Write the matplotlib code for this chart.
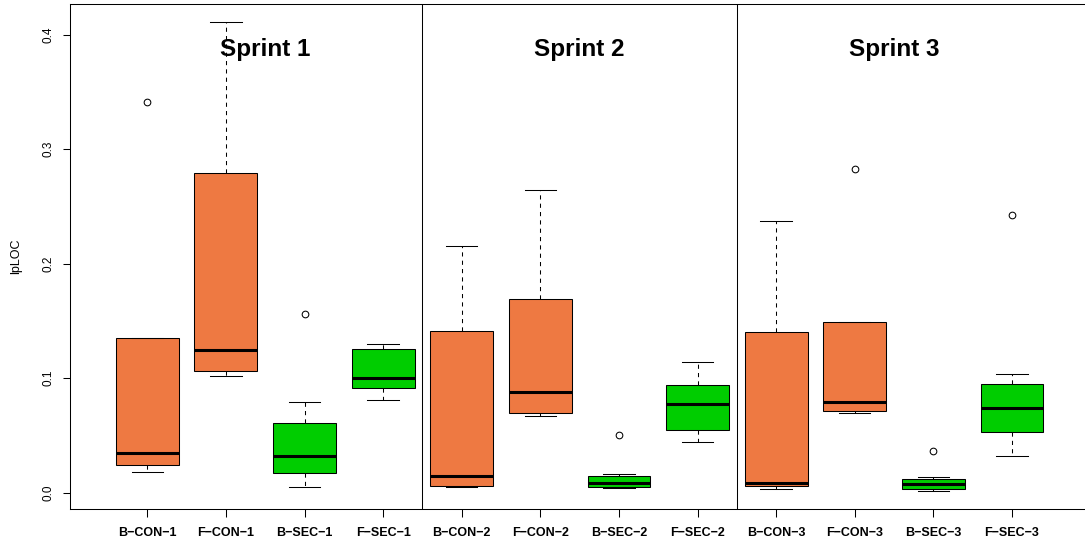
import matplotlib
matplotlib.use("Agg")
import matplotlib.pyplot as plt

plt.rcParams['font.family'] = ['Liberation Sans', 'DejaVu Sans']

labels = ['B−CON−1', 'F−CON−1', 'B−SEC−1', 'F−SEC−1',
          'B−CON−2', 'F−CON−2', 'B−SEC−2', 'F−SEC−2',
          'B−CON−3', 'F−CON−3', 'B−SEC−3', 'F−SEC−3']
whislo = [0.0177, 0.1017, 0.0046, 0.0807,
          0.0049, 0.0673, 0.0043, 0.0442,
          0.0031, 0.0691, 0.0016, 0.0317]
q1 = [0.0241, 0.1066, 0.0174, 0.0913,
      0.0061, 0.0691, 0.0049, 0.0548,
      0.0058, 0.0712, 0.0034, 0.0527]
med = [0.0350, 0.1248, 0.0320, 0.0999,
       0.0146, 0.0880, 0.0082, 0.0776,
       0.0082, 0.0792, 0.0077, 0.0737]
q3 = [0.1349, 0.2795, 0.0609, 0.1258,
      0.1413, 0.1690, 0.0141, 0.0941,
      0.1401, 0.1486, 0.0122, 0.0947]
whishi = [0.1349, 0.4113, 0.0792, 0.1297,
          0.2153, 0.2643, 0.0159, 0.1142,
          0.2372, 0.1486, 0.0134, 0.1038]
fliers = [[0.3416], [], [0.1556], [],
          [], [], [0.0502], [],
          [], [0.2831], [0.0365], [0.2424]]
groups = ['CON', 'CON', 'SEC', 'SEC'] * 3
sprint_titles = ['Sprint 1', 'Sprint 2', 'Sprint 3']
yticks = [0.0, 0.1, 0.2, 0.3, 0.4]
ytick_labels = ['0.0', '0.1', '0.2', '0.3', '0.4']

group_colors = {'CON': '#EE7942', 'SEC': '#00CD00'}

fig = plt.figure(figsize=(10.85, 5.46), dpi=100)
ax = fig.add_axes([70.3 / 1085, 1 - 509.3 / 546, (1089 - 70.3) / 1085, (509.3 - 4) / 546])

stats = []
for i in range(len(labels)):
    stats.append(dict(label=labels[i], whislo=whislo[i], q1=q1[i], med=med[i],
                      q3=q3[i], whishi=whishi[i], fliers=fliers[i]))

positions = list(range(1, len(labels) + 1))
bp = ax.bxp(stats, positions=positions, widths=0.8, capwidths=0.4,
            patch_artist=True, showfliers=True,
            boxprops=dict(edgecolor='black', linewidth=0.75),
            medianprops=dict(color='black', linewidth=2.2, solid_capstyle='butt'),
            whiskerprops=dict(color='black', linewidth=0.75, linestyle=(0, (4, 4))),
            capprops=dict(color='black', linewidth=0.75),
            flierprops=dict(marker='o', markersize=4.8, markerfacecolor='none',
                            markeredgecolor='black', markeredgewidth=0.75, linestyle='none'))
for patch, g in zip(bp['boxes'], groups):
    patch.set_facecolor(group_colors[g])

for xs in (4.5, 8.5):
    ax.axvline(xs, color='black', linewidth=0.75)

for k, t in enumerate(sprint_titles):
    ax.text(2.5 + 4 * k, 0.3818, t, ha='center', va='baseline',
            fontsize=17.5, fontweight='bold', zorder=10)

ax.set_xlim(0.02, 12.98)
ax.set_ylim(-0.0146, 0.4268)

ax.set_xticks(positions)
ax.set_xticklabels(labels, fontsize=9, fontweight='bold')
ax.set_yticks(yticks)
ax.set_yticklabels(ytick_labels, fontsize=8.5, rotation=90, va='center')
ax.tick_params(axis='x', length=5.4, width=0.75, pad=7, colors='black')
ax.tick_params(axis='y', length=5.2, width=0.75, pad=6, colors='black')

ax.set_ylabel('lpLOC', fontsize=9, va='center')
ax.yaxis.set_label_coords((16 - 70.3) / (1089 - 70.3), 0.5)

for sp in ax.spines.values():
    sp.set_linewidth(0.75)
    sp.set_color('black')

fig.savefig('out.png', dpi=100)
